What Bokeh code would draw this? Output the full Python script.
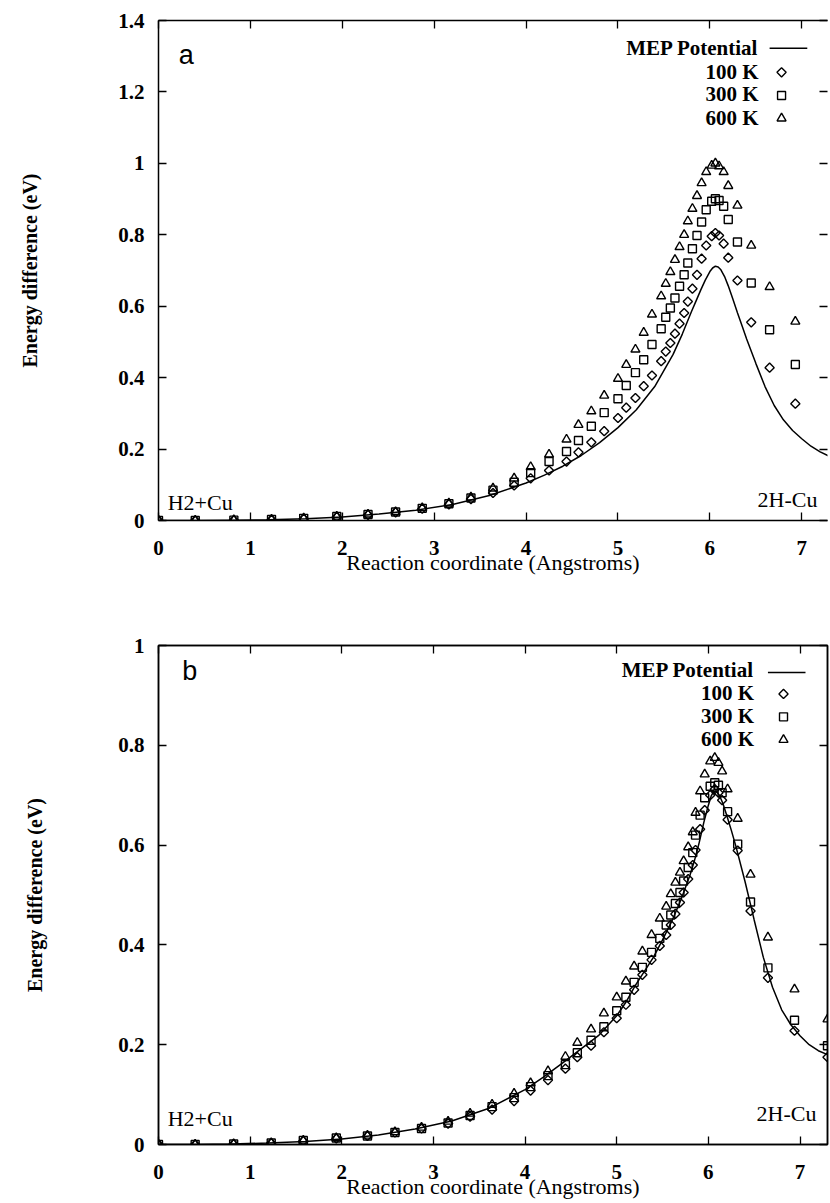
import math
from bokeh.plotting import figure
from bokeh.layouts import column
from bokeh.models import LinearAxis, FixedTicker, CustomJSTickFormatter, Range1d, Label
from bokeh.embed import file_html
from bokeh.resources import INLINE

# ---------------- data: panel a ----------------
A_X = [0, 0.40, 0.82, 1.23, 1.58, 1.94, 2.28, 2.58, 2.87, 3.16, 3.40, 3.64, 3.87, 4.05,
       4.25, 4.44, 4.57, 4.71, 4.85, 5.0, 5.09, 5.19, 5.28, 5.37, 5.47, 5.52, 5.57, 5.62,
       5.67, 5.72, 5.76, 5.81, 5.86, 5.91, 5.96, 6.02, 6.06, 6.10, 6.15, 6.20, 6.30, 6.45,
       6.65, 6.93]
A_100K = [0, 0, 0.001, 0.002, 0.005, 0.010, 0.016, 0.023, 0.033, 0.045, 0.060, 0.077, 0.098,
          0.118, 0.140, 0.165, 0.191, 0.219, 0.250, 0.287, 0.316, 0.343, 0.376, 0.406, 0.446,
          0.473, 0.497, 0.523, 0.551, 0.581, 0.613, 0.649, 0.688, 0.733, 0.770, 0.796, 0.805,
          0.798, 0.775, 0.736, 0.672, 0.555, 0.428, 0.327]
A_300K = [0, 0, 0.001, 0.003, 0.006, 0.011, 0.017, 0.024, 0.034, 0.047, 0.063, 0.085, 0.107,
          0.134, 0.165, 0.193, 0.224, 0.264, 0.302, 0.341, 0.378, 0.414, 0.450, 0.493, 0.537,
          0.569, 0.595, 0.623, 0.656, 0.688, 0.721, 0.761, 0.798, 0.836, 0.870, 0.894, 0.901,
          0.896, 0.880, 0.843, 0.780, 0.665, 0.534, 0.437]
A_600K = [0, 0, 0.001, 0.003, 0.006, 0.011, 0.017, 0.024, 0.035, 0.048, 0.065, 0.090, 0.118,
          0.150, 0.185, 0.227, 0.268, 0.306, 0.350, 0.397, 0.436, 0.479, 0.526, 0.577, 0.628,
          0.663, 0.696, 0.730, 0.766, 0.800, 0.838, 0.873, 0.909, 0.945, 0.976, 0.994, 1.000,
          0.992, 0.976, 0.937, 0.882, 0.770, 0.654, 0.557]
A_MEP_X = [0, 0.4, 0.8, 1.2, 1.6, 2.0, 2.4, 2.8, 3.2, 3.6, 4.0, 4.2, 4.4, 4.6, 4.8, 5.0, 5.2,
           5.4, 5.6, 5.7, 5.8, 5.85, 5.9, 5.95, 6.0, 6.03, 6.06, 6.09, 6.12, 6.16, 6.2, 6.25,
           6.3, 6.35, 6.4, 6.5, 6.6, 6.7, 6.8, 6.9, 7.0, 7.1, 7.2, 7.3]
A_MEP_Y = [0, 0, 0.001, 0.002, 0.005, 0.010, 0.018, 0.029, 0.045, 0.070, 0.105, 0.127, 0.152,
           0.182, 0.218, 0.260, 0.310, 0.375, 0.465, 0.522, 0.585, 0.615, 0.645, 0.673, 0.697,
           0.707, 0.712, 0.710, 0.702, 0.683, 0.657, 0.620, 0.582, 0.545, 0.508, 0.440, 0.375,
           0.322, 0.282, 0.252, 0.229, 0.208, 0.192, 0.180]

# ---------------- data: panel b ----------------
B_X = [0, 0.40, 0.82, 1.23, 1.58, 1.94, 2.28, 2.58, 2.87, 3.16, 3.40, 3.64, 3.88, 4.06,
       4.25, 4.44, 4.57, 4.72, 4.86, 5.0, 5.10, 5.19, 5.28, 5.38, 5.47, 5.54, 5.59, 5.64,
       5.69, 5.73, 5.78, 5.83, 5.86, 5.91, 5.96, 6.02, 6.07, 6.11, 6.15, 6.21, 6.32, 6.46,
       6.65, 6.94, 7.30]
B_100K = [0, 0, 0.001, 0.003, 0.007, 0.012, 0.017, 0.024, 0.032, 0.042, 0.056, 0.070, 0.087,
          0.108, 0.129, 0.152, 0.175, 0.198, 0.225, 0.253, 0.280, 0.310, 0.340, 0.370, 0.398,
          0.420, 0.440, 0.462, 0.485, 0.505, 0.532, 0.560, 0.590, 0.632, 0.670, 0.700, 0.712,
          0.705, 0.690, 0.651, 0.589, 0.468, 0.334, 0.228, 0.175]
B_300K = [0, 0, 0.001, 0.003, 0.008, 0.013, 0.017, 0.024, 0.032, 0.043, 0.058, 0.076, 0.094,
          0.116, 0.138, 0.160, 0.184, 0.209, 0.236, 0.268, 0.295, 0.325, 0.355, 0.385, 0.413,
          0.440, 0.460, 0.483, 0.505, 0.528, 0.555, 0.585, 0.620, 0.660, 0.695, 0.718, 0.725,
          0.720, 0.705, 0.667, 0.602, 0.486, 0.354, 0.249, 0.198]
B_600K = [0, 0, 0.001, 0.003, 0.008, 0.013, 0.018, 0.025, 0.034, 0.046, 0.062, 0.080, 0.102,
          0.123, 0.147, 0.176, 0.204, 0.231, 0.263, 0.295, 0.327, 0.357, 0.387, 0.420, 0.453,
          0.477, 0.502, 0.525, 0.545, 0.568, 0.596, 0.626, 0.665, 0.708, 0.742, 0.768, 0.775,
          0.765, 0.748, 0.712, 0.653, 0.541, 0.415, 0.311, 0.251]
B_MEP_X = [0, 0.4, 0.8, 1.2, 1.6, 2.0, 2.4, 2.8, 3.2, 3.6, 4.0, 4.2, 4.4, 4.6, 4.8, 5.0, 5.1,
           5.2, 5.4, 5.5, 5.6, 5.7, 5.8, 5.85, 5.9, 5.95, 6.0, 6.03, 6.06, 6.09, 6.12, 6.16,
           6.2, 6.25, 6.3, 6.4, 6.5, 6.6, 6.7, 6.8, 6.9, 7.0, 7.1, 7.2, 7.3]
B_MEP_Y = [0, 0, 0.001, 0.003, 0.006, 0.011, 0.019, 0.031, 0.047, 0.072, 0.110, 0.135, 0.162,
           0.190, 0.218, 0.258, 0.285, 0.318, 0.375, 0.410, 0.447, 0.490, 0.540, 0.570, 0.605,
           0.645, 0.680, 0.698, 0.708, 0.707, 0.700, 0.683, 0.660, 0.630, 0.598, 0.527, 0.450,
           0.375, 0.315, 0.270, 0.240, 0.218, 0.200, 0.188, 0.180]

X_TICKS = [0, 1, 2, 3, 4, 5, 6, 7]
A_Y_TICKS = [0, 0.2, 0.4, 0.6, 0.8, 1.0, 1.2, 1.4]
B_Y_TICKS = [0, 0.2, 0.4, 0.6, 0.8, 1.0]
SERIES_LABELS = ["MEP Potential", "100 K", "300 K", "600 K"]

SERIF = "Liberation Serif"
BLACK = "#000000"


def style_axis(ax, ticks, show_labels, standoff=14):
    ax.ticker = FixedTicker(ticks=ticks)
    ax.major_tick_in = 8
    ax.major_tick_out = 0
    ax.minor_tick_in = 0
    ax.minor_tick_out = 0
    ax.minor_tick_line_color = None
    ax.major_tick_line_color = BLACK
    ax.major_tick_line_width = 1.3
    ax.axis_line_color = BLACK
    ax.axis_line_width = 1.5
    if show_labels:
        ax.formatter = CustomJSTickFormatter(code="return String(Math.round(tick*10)/10)")
        ax.major_label_text_font = SERIF
        ax.major_label_text_font_style = "bold"
        ax.major_label_text_font_size = "21px"
        ax.major_label_text_color = BLACK
        ax.major_label_standoff = standoff
    else:
        ax.formatter = CustomJSTickFormatter(code="return ''")
        ax.major_label_text_font_size = "0px"
        ax.major_label_standoff = 0


def make_panel(xs, s100, s300, s600, mep_x, mep_y, x_end, y_end, y_ticks, height,
               b_left, b_right, b_top, b_bottom, ylab_standoff, outline,
               letter, letter_pos, legend, h2_pos, h2cu_pos):
    p = figure(width=830, height=height, x_range=Range1d(0, x_end), y_range=Range1d(0, y_end),
               output_backend="svg", toolbar_location=None,
               min_border_left=b_left, min_border_right=b_right,
               min_border_top=b_top, min_border_bottom=b_bottom,
               background_fill_color="white", border_fill_color="white")
    p.grid.visible = False
    p.outline_line_color = BLACK if outline else None
    p.outline_line_width = 1.5

    xb = p.xaxis[0]
    yl = p.yaxis[0]
    style_axis(xb, X_TICKS, True, standoff=20)
    style_axis(yl, y_ticks, True, standoff=14)
    xb.axis_label = "Reaction coordinate (Angstroms)"
    xb.axis_label_text_font = SERIF
    xb.axis_label_text_font_style = "normal"
    xb.axis_label_text_font_size = "22px"
    xb.axis_label_text_color = BLACK
    xb.axis_label_standoff = -8
    yl.axis_label = "Energy difference (eV)"
    yl.axis_label_text_font = SERIF
    yl.axis_label_text_font_style = "bold"
    yl.axis_label_text_font_size = "20px"
    yl.axis_label_text_color = BLACK
    yl.axis_label_standoff = ylab_standoff

    top = LinearAxis()
    style_axis(top, X_TICKS, False)
    p.add_layout(top, "above")
    right = LinearAxis()
    style_axis(right, y_ticks, False)
    if not outline:
        right.axis_line_color = None
    p.add_layout(right, "right")

    # MEP curve
    p.line(mep_x, mep_y, line_color=BLACK, line_width=1.5)
    # simulation points
    p.scatter(xs, s100, marker="square", angle=math.pi / 4, size=6.5,
              fill_alpha=0.0, line_color=BLACK, line_width=1.4)
    p.scatter(xs, s300, marker="square", size=8,
              fill_alpha=0.0, line_color=BLACK, line_width=1.4)
    p.scatter(xs, s600, marker="triangle", size=9,
              fill_alpha=0.0, line_color=BLACK, line_width=1.4)

    # legend (gnuplot style: label right-aligned, sample to the right)
    tx, baselines, (lx0, lx1, ly), mx, mys = legend
    for lab, yb in zip(SERIES_LABELS, baselines):
        p.add_layout(Label(x=tx, y=yb, text=lab, text_align="right", text_baseline="alphabetic",
                           text_font=SERIF, text_font_style="bold", text_font_size="21px",
                           text_color=BLACK))
    p.line([lx0, lx1], [ly, ly], line_color=BLACK, line_width=1.5)
    p.scatter([mx], [mys[0]], marker="square", angle=math.pi / 4, size=6.5,
              fill_alpha=0.0, line_color=BLACK, line_width=1.4)
    p.scatter([mx], [mys[1]], marker="square", size=8,
              fill_alpha=0.0, line_color=BLACK, line_width=1.4)
    p.scatter([mx], [mys[2]], marker="triangle", size=9,
              fill_alpha=0.0, line_color=BLACK, line_width=1.4)

    # annotations
    p.add_layout(Label(x=h2_pos[0], y=h2_pos[1], text="H2+Cu", text_align="left",
                       text_baseline="alphabetic", text_font=SERIF, text_font_size="22px",
                       text_color=BLACK))
    p.add_layout(Label(x=h2cu_pos[0], y=h2cu_pos[1], text="2H-Cu", text_align="right",
                       text_baseline="alphabetic", text_font=SERIF, text_font_size="22px",
                       text_color=BLACK))
    p.add_layout(Label(x=letter_pos[0], y=letter_pos[1], text=letter, text_align="left",
                       text_baseline="alphabetic", text_font="Liberation Sans",
                       text_font_size="27px", text_color=BLACK))
    return p


pa = make_panel(A_X, A_100K, A_300K, A_600K, A_MEP_X, A_MEP_Y, 7.28, 1.4, A_Y_TICKS,
                height=610, b_left=158, b_right=0, b_top=20, b_bottom=90,
                ylab_standoff=74, outline=False,
                letter="a", letter_pos=(0.22, 1.304),
                legend=(6.53, [1.322, 1.257, 1.193, 1.128], (6.65, 7.06, 1.322), 6.78,
                        [1.255, 1.19, 1.126]),
                h2_pos=(0.10, 0.050), h2cu_pos=(7.17, 0.058))

pb = make_panel(B_X, B_100K, B_300K, B_600K, B_MEP_X, B_MEP_Y, 7.3, 1.0, B_Y_TICKS,
                height=593, b_left=153, b_right=3, b_top=35, b_bottom=59,
                ylab_standoff=69, outline=True,
                letter="b", letter_pos=(0.26, 0.949),
                legend=(6.50, [0.950, 0.905, 0.859, 0.813], (6.65, 7.06, 0.946), 6.82,
                        [0.903, 0.857, 0.811]),
                h2_pos=(0.10, 0.052), h2cu_pos=(7.18, 0.062))

layout = column(pa, pb, spacing=0)
open("out.html", "w").write(file_html(layout, INLINE))
